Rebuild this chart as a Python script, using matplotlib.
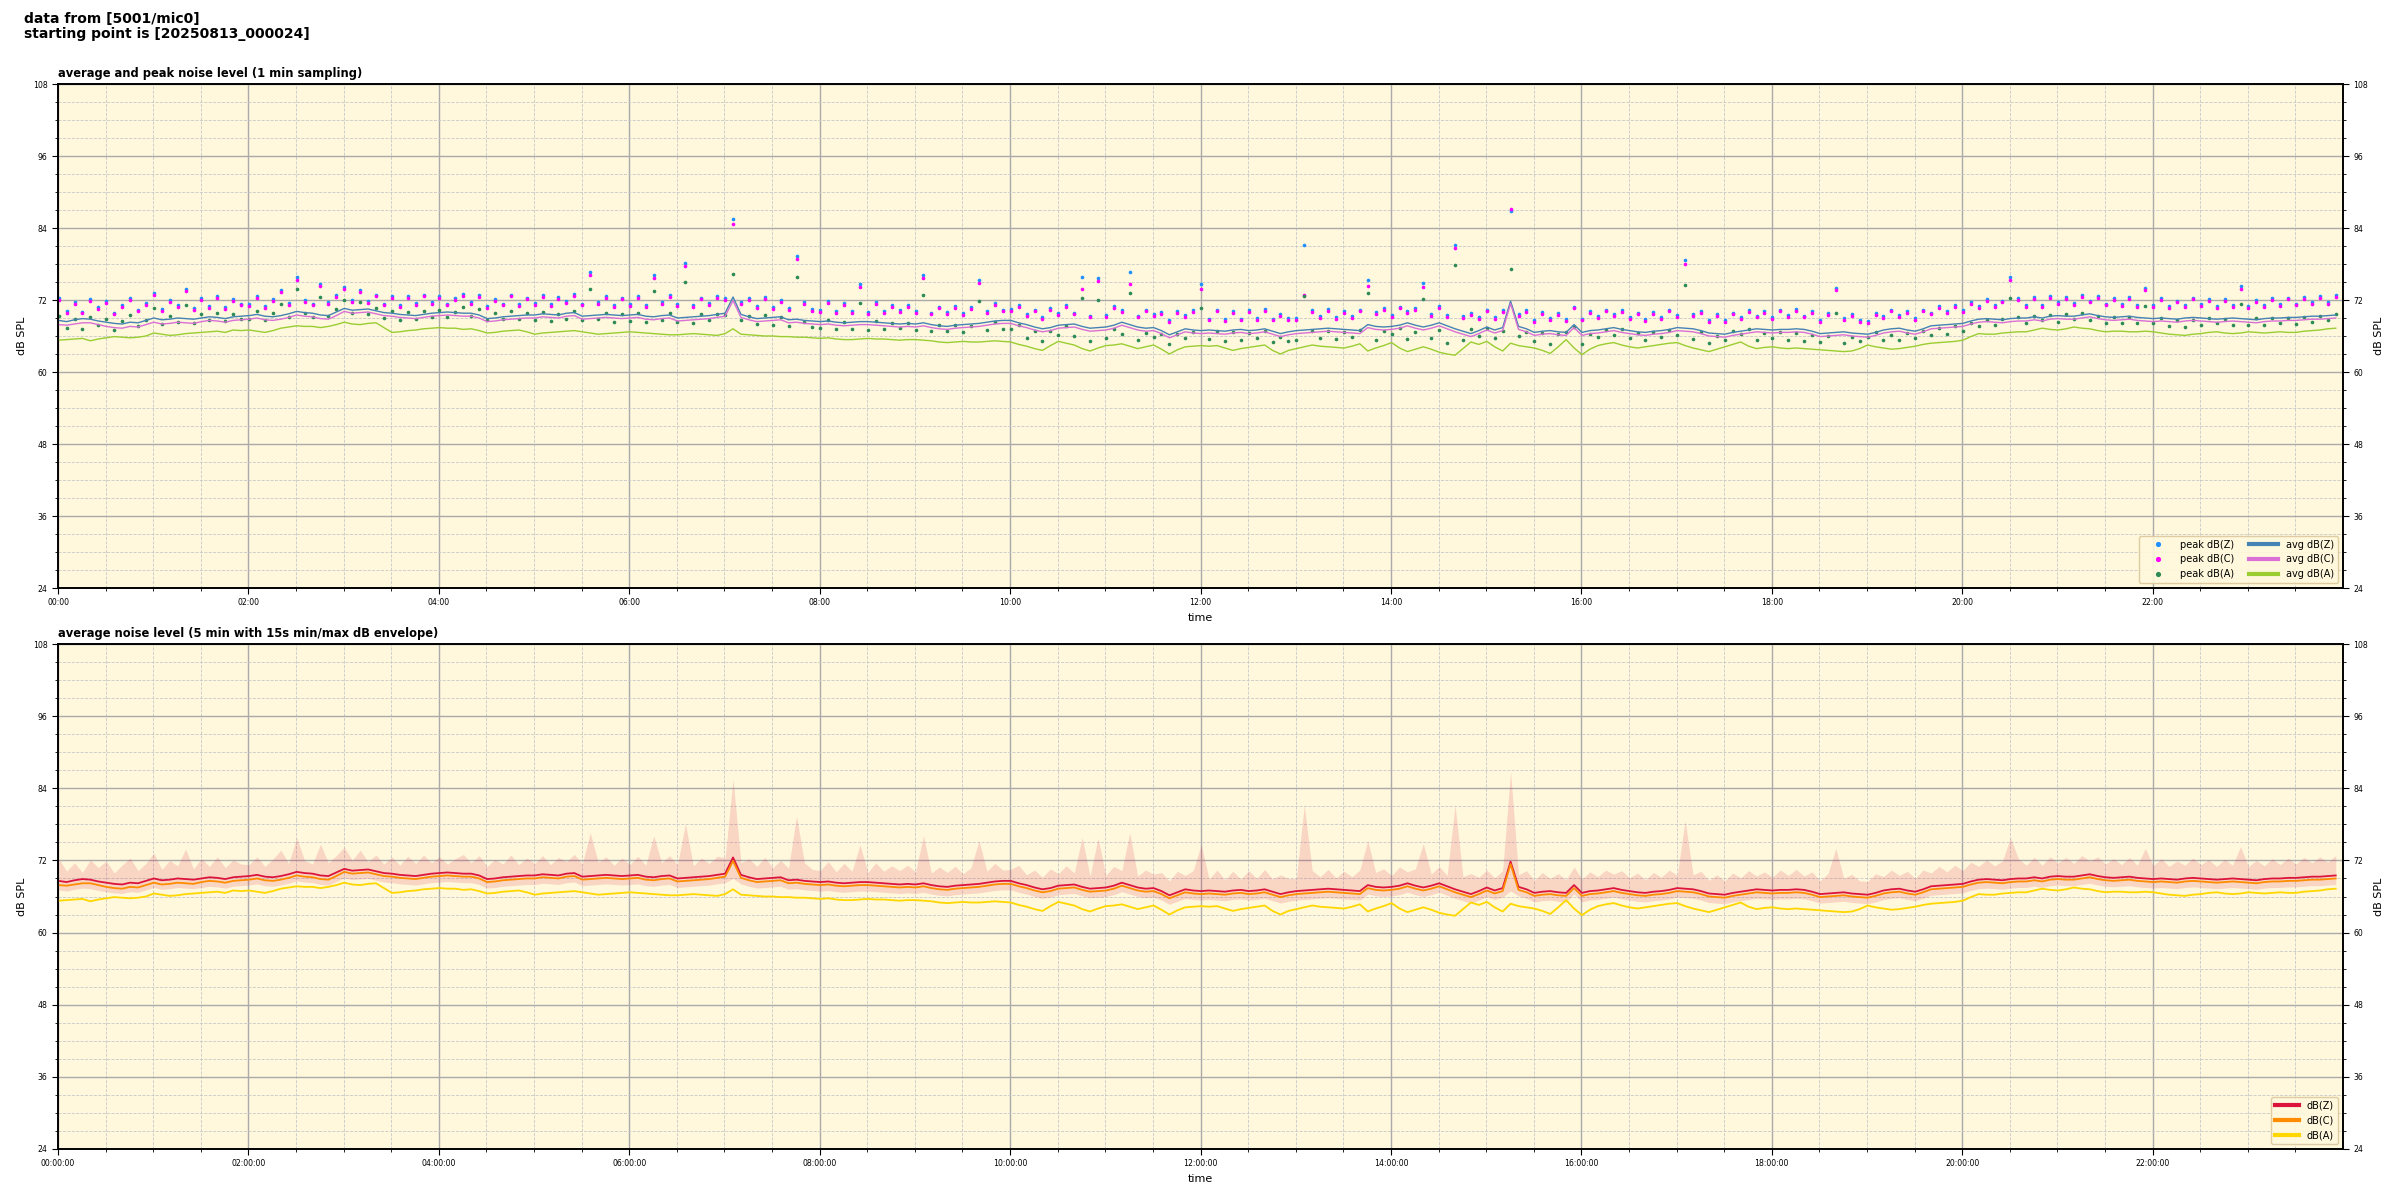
import numpy as np
import matplotlib
matplotlib.use("Agg")
import matplotlib.pyplot as plt
import matplotlib.dates as mdates
from matplotlib.ticker import MultipleLocator

# ---------------- data (5-minute resolution, one row per hour) ----------------
start = np.datetime64("2025-08-13T00:00:24")
step_min = 5

avg_Z = [
    68.6, 68.4, 68.7, 68.9, 68.8, 68.5, 68.3, 68.1, 68.0, 68.3, 68.2, 68.6,
    69.0, 68.7, 68.8, 69.0, 68.9, 68.8, 69.0, 69.2, 69.1, 68.9, 69.2, 69.3,
    69.4, 69.6, 69.3, 69.2, 69.4, 69.7, 70.1, 69.9, 69.8, 69.5, 69.4, 70.0,
    70.6, 70.3, 70.4, 70.5, 70.2, 69.9, 69.8, 69.6, 69.5, 69.4, 69.6, 69.8,
    69.9, 70.0, 69.9, 69.8, 69.8, 69.5, 68.9, 69.0, 69.2, 69.3, 69.4, 69.5,
    69.5, 69.7, 69.6, 69.5, 69.8, 69.9, 69.3, 69.4, 69.5, 69.6, 69.5, 69.4,
    69.5, 69.6, 69.3, 69.2, 69.4, 69.5, 69.0, 69.1, 69.2, 69.3, 69.4, 69.6,
    69.8, 72.5, 69.6, 69.2, 68.9, 69.0, 69.1, 69.2, 68.7, 68.8, 68.6, 68.5,
    68.4, 68.5, 68.3, 68.2, 68.3, 68.4, 68.4, 68.3, 68.2, 68.1, 68.0, 68.1,
    68.0, 68.2, 67.9, 67.7, 67.6, 67.8, 67.9, 68.0, 68.1, 68.3, 68.5, 68.6,
    68.6, 68.2, 67.9, 67.5, 67.2, 67.4, 67.8, 67.9, 68.0, 67.6, 67.3, 67.4,
    67.5, 67.8, 68.3, 67.9, 67.5, 67.3, 67.4, 66.9, 66.2, 66.7, 67.2, 67.0,
    66.9, 67.0, 66.9, 66.8, 67.0, 67.1, 66.9, 67.0, 67.2, 66.8, 66.4, 66.7,
    66.9, 67.0, 67.1, 67.2, 67.3, 67.2, 67.1, 67.0, 66.9, 67.9, 67.6, 67.5,
    67.6, 67.8, 68.2, 67.8, 67.5, 67.8, 68.2, 67.7, 67.2, 66.8, 66.4, 66.9,
    67.5, 67.0, 67.4, 71.8, 67.6, 67.2, 66.6, 66.8, 66.9, 66.7, 66.6, 67.9,
    66.6, 66.9, 67.0, 67.2, 67.4, 67.1, 66.9, 66.7, 66.6, 66.8, 66.9, 67.1,
    67.4, 67.3, 67.2, 66.9, 66.5, 66.4, 66.3, 66.6, 66.8, 67.0, 67.2, 67.1,
    67.0, 67.1, 67.1, 67.2, 67.1, 66.8, 66.4, 66.5, 66.6, 66.7, 66.5, 66.4,
    66.3, 66.6, 67.0, 67.2, 67.3, 67.0, 66.8, 67.2, 67.7, 67.8, 67.9, 68.0,
    68.1, 68.5, 68.8, 68.9, 68.8, 68.7, 68.9, 69.0, 69.0, 69.2, 69.0, 69.3,
    69.4, 69.3, 69.3, 69.5, 69.7, 69.4, 69.2, 69.1, 69.2, 69.3, 69.1, 69.0,
    68.9, 69.0, 68.9, 68.8, 69.0, 69.1, 69.0, 68.9, 68.8, 68.9, 69.0, 68.9,
    68.8, 68.7, 68.9, 69.0, 69.0, 69.1, 69.1, 69.2, 69.3, 69.3, 69.4, 69.5,
]

avg_C = [
    67.9, 67.8, 68.0, 68.2, 68.2, 67.9, 67.6, 67.4, 67.3, 67.6, 67.5, 67.9,
    68.3, 68.0, 68.1, 68.3, 68.2, 68.1, 68.4, 68.6, 68.5, 68.3, 68.6, 68.7,
    68.8, 69.0, 68.7, 68.6, 68.8, 69.1, 69.5, 69.3, 69.2, 68.9, 68.8, 69.4,
    70.1, 69.8, 69.9, 70.0, 69.7, 69.4, 69.3, 69.1, 69.0, 68.9, 69.1, 69.3,
    69.4, 69.5, 69.4, 69.3, 69.3, 69.0, 68.4, 68.5, 68.7, 68.8, 68.9, 69.0,
    69.0, 69.2, 69.1, 69.0, 69.3, 69.4, 68.8, 68.9, 69.0, 69.1, 69.0, 68.9,
    69.0, 69.1, 68.8, 68.7, 68.9, 69.0, 68.5, 68.6, 68.7, 68.8, 68.9, 69.1,
    69.3, 71.9, 69.1, 68.7, 68.4, 68.5, 68.6, 68.7, 68.2, 68.3, 68.1, 68.0,
    67.9, 68.0, 67.8, 67.7, 67.8, 67.9, 67.9, 67.8, 67.7, 67.6, 67.5, 67.6,
    67.5, 67.7, 67.4, 67.2, 67.1, 67.3, 67.4, 67.5, 67.6, 67.8, 68.0, 68.1,
    68.1, 67.7, 67.4, 67.0, 66.7, 66.9, 67.3, 67.4, 67.5, 67.1, 66.8, 66.9,
    67.0, 67.3, 67.8, 67.4, 67.0, 66.8, 66.9, 66.4, 65.7, 66.2, 66.7, 66.5,
    66.4, 66.5, 66.4, 66.3, 66.5, 66.6, 66.4, 66.5, 66.7, 66.3, 65.9, 66.2,
    66.4, 66.5, 66.6, 66.7, 66.8, 66.7, 66.6, 66.5, 66.4, 67.4, 67.1, 67.0,
    67.1, 67.3, 67.7, 67.3, 67.0, 67.3, 67.7, 67.2, 66.7, 66.3, 65.9, 66.4,
    67.0, 66.5, 66.9, 71.4, 67.1, 66.7, 66.1, 66.3, 66.4, 66.2, 66.1, 67.4,
    66.1, 66.4, 66.5, 66.7, 66.9, 66.6, 66.4, 66.2, 66.1, 66.3, 66.4, 66.6,
    66.9, 66.8, 66.7, 66.4, 66.0, 65.9, 65.8, 66.1, 66.3, 66.5, 66.7, 66.6,
    66.5, 66.6, 66.6, 66.7, 66.6, 66.3, 65.9, 66.0, 66.1, 66.2, 66.0, 65.9,
    65.8, 66.1, 66.5, 66.7, 66.8, 66.5, 66.3, 66.7, 67.2, 67.3, 67.4, 67.5,
    67.6, 68.0, 68.3, 68.4, 68.3, 68.2, 68.4, 68.5, 68.5, 68.7, 68.5, 68.8,
    68.9, 68.8, 68.8, 69.0, 69.2, 68.9, 68.7, 68.6, 68.7, 68.8, 68.6, 68.5,
    68.4, 68.5, 68.4, 68.3, 68.5, 68.6, 68.5, 68.4, 68.3, 68.4, 68.5, 68.4,
    68.3, 68.2, 68.4, 68.5, 68.5, 68.6, 68.6, 68.7, 68.8, 68.8, 68.9, 69.0,
]

avg_A = [
    65.3, 65.4, 65.5, 65.6, 65.2, 65.5, 65.7, 65.9, 65.8, 65.7, 65.8, 66.0,
    66.5, 66.3, 66.1, 66.2, 66.4, 66.5, 66.6, 66.7, 66.8, 66.6, 67.0, 66.9,
    67.0, 66.8, 66.6, 66.9, 67.3, 67.5, 67.7, 67.6, 67.6, 67.4, 67.6, 67.9,
    68.3, 68.0, 67.9, 68.1, 68.2, 67.4, 66.6, 66.7, 66.9, 67.0, 67.2, 67.3,
    67.4, 67.3, 67.3, 67.1, 67.2, 66.9, 66.5, 66.6, 66.8, 66.9, 67.0, 66.7,
    66.3, 66.5, 66.6, 66.7, 66.8, 66.9, 66.7, 66.5, 66.3, 66.4, 66.5, 66.6,
    66.7, 66.6, 66.5, 66.4, 66.3, 66.2, 66.2, 66.3, 66.4, 66.3, 66.2, 66.1,
    66.4, 67.2, 66.3, 66.2, 66.1, 66.0, 66.0, 65.9, 65.9, 65.8, 65.8, 65.7,
    65.6, 65.7, 65.5, 65.4, 65.4, 65.5, 65.6, 65.5, 65.5, 65.4, 65.3, 65.4,
    65.4, 65.3, 65.2, 65.0, 64.9, 65.0, 65.1, 65.0, 65.0, 65.1, 65.2, 65.1,
    65.0, 64.6, 64.3, 63.9, 63.6, 64.4, 65.1, 64.8, 64.5, 63.9, 63.5, 64.0,
    64.4, 64.5, 64.7, 64.3, 63.9, 64.2, 64.5, 63.8, 63.0, 63.7, 64.2, 64.3,
    64.4, 64.3, 64.4, 64.0, 63.6, 63.9, 64.1, 64.3, 64.5, 63.6, 63.0, 63.6,
    63.9, 64.2, 64.5, 64.3, 64.2, 64.1, 64.0, 64.3, 64.7, 63.5, 64.0, 64.4,
    64.9, 64.0, 63.4, 63.8, 64.2, 63.8, 63.3, 63.0, 62.8, 63.9, 65.0, 64.6,
    65.1, 64.2, 63.5, 64.8, 64.4, 64.2, 64.0, 63.6, 63.1, 64.2, 65.4, 64.0,
    62.9, 63.8, 64.4, 64.7, 64.9, 64.5, 64.2, 64.0, 64.2, 64.4, 64.6, 64.8,
    64.9, 64.4, 64.0, 63.7, 63.4, 63.8, 64.2, 64.6, 65.0, 64.3, 63.9, 64.1,
    64.2, 64.0, 63.9, 64.0, 63.9, 63.8, 63.7, 63.6, 63.5, 63.4, 63.5, 63.9,
    64.5, 64.2, 64.0, 63.8, 63.9, 64.1, 64.3, 64.6, 64.8, 64.9, 65.0, 65.1,
    65.3, 65.9, 66.4, 66.3, 66.3, 66.5, 66.6, 66.7, 66.7, 67.0, 67.3, 67.1,
    67.0, 67.2, 67.5, 67.3, 67.2, 66.9, 66.7, 66.8, 66.8, 66.7, 66.7, 66.8,
    66.7, 66.5, 66.3, 66.2, 66.1, 66.3, 66.4, 66.6, 66.7, 66.5, 66.4, 66.5,
    66.7, 66.6, 66.5, 66.6, 66.7, 66.6, 66.6, 66.8, 66.9, 67.0, 67.2, 67.3,
]

peak_Z = [
    72.3, 70.2, 71.6, 70.0, 72.1, 70.8, 71.9, 69.9, 71.2, 72.4, 70.3, 71.5,
    73.2, 70.5, 72.0, 71.1, 73.9, 70.6, 72.3, 71.0, 72.6, 70.8, 72.1, 71.4,
    71.3, 72.6, 71.0, 72.2, 73.7, 71.5, 75.8, 72.0, 71.4, 74.7, 71.6, 72.8,
    74.2, 72.0, 73.7, 71.8, 72.9, 71.4, 72.6, 71.2, 72.7, 71.5, 72.9, 71.6,
    72.6, 71.4, 72.3, 73.0, 71.6, 72.8, 71.0, 72.2, 71.4, 72.9, 71.3, 72.4,
    71.5, 72.8, 71.3, 72.5, 71.8, 73.0, 71.4, 76.6, 71.7, 72.6, 71.2, 72.4,
    71.3, 72.7, 71.2, 76.1, 71.6, 72.8, 71.3, 78.1, 71.1, 72.4, 71.5, 72.7,
    72.4, 85.5, 71.6, 72.3, 71.0, 72.5, 70.8, 72.0, 70.7, 79.4, 71.6, 70.5,
    70.3, 71.8, 70.1, 71.5, 70.2, 74.6, 70.0, 71.6, 70.2, 71.1, 70.3, 71.2,
    70.1, 76.1, 69.9, 70.9, 70.0, 71.0, 69.8, 70.8, 75.3, 70.2, 71.5, 70.4,
    70.5, 71.2, 69.6, 70.4, 69.2, 70.6, 69.8, 71.1, 69.9, 75.8, 69.4, 75.7,
    69.5, 71.0, 70.3, 76.6, 69.4, 70.4, 69.7, 70.0, 68.6, 70.2, 69.5, 70.3,
    74.6, 68.9, 70.4, 68.8, 70.2, 68.9, 70.3, 69.0, 70.5, 68.9, 69.6, 69.0,
    69.0, 81.2, 70.3, 69.3, 70.5, 69.1, 70.2, 69.3, 70.4, 75.3, 70.0, 70.6,
    69.5, 70.9, 70.1, 70.6, 74.8, 69.7, 71.0, 69.5, 81.2, 69.3, 69.8, 69.2,
    70.4, 69.1, 70.3, 86.8, 69.6, 70.3, 68.7, 70.0, 69.0, 69.8, 68.8, 70.9,
    68.9, 70.1, 69.3, 70.4, 69.7, 70.3, 69.1, 69.9, 68.8, 70.0, 69.2, 70.4,
    69.5, 78.6, 69.6, 70.2, 68.7, 69.6, 68.6, 69.9, 69.1, 70.3, 69.4, 70.1,
    69.2, 70.4, 69.5, 70.5, 69.4, 70.1, 68.6, 69.8, 74.0, 69.0, 69.7, 68.6,
    68.5, 69.8, 69.3, 70.4, 69.5, 70.2, 69.0, 70.4, 69.9, 71.0, 70.1, 71.2,
    70.3, 71.7, 71.0, 72.1, 71.1, 71.9, 75.8, 72.3, 71.2, 72.5, 71.2, 72.6,
    71.6, 72.5, 71.5, 72.8, 71.9, 72.6, 71.4, 72.3, 71.3, 72.5, 71.2, 74.0,
    71.1, 72.3, 71.0, 71.9, 71.2, 72.4, 71.3, 72.1, 71.0, 72.2, 71.2, 74.3,
    71.0, 72.0, 71.1, 72.3, 71.3, 72.4, 71.4, 72.5, 71.6, 72.6, 71.7, 72.8,
]

peak_C = [
    72.0, 69.9, 71.3, 69.8, 71.8, 70.5, 71.5, 69.6, 70.9, 72.0, 70.1, 71.2,
    72.9, 70.2, 71.7, 70.8, 73.5, 70.3, 72.0, 70.7, 72.3, 70.5, 71.8, 71.1,
    71.0, 72.3, 70.7, 71.9, 73.3, 71.2, 75.4, 71.7, 71.1, 74.3, 71.3, 72.5,
    73.8, 71.7, 73.3, 71.5, 72.6, 71.1, 72.3, 70.9, 72.4, 71.2, 72.6, 71.3,
    72.3, 71.1, 72.0, 72.7, 71.3, 72.5, 70.7, 71.9, 71.1, 72.6, 71.0, 72.1,
    71.2, 72.5, 71.0, 72.2, 71.5, 72.7, 71.1, 76.1, 71.4, 72.3, 70.9, 72.1,
    71.0, 72.4, 70.9, 75.6, 71.3, 72.5, 71.0, 77.6, 70.8, 72.1, 71.2, 72.4,
    72.0, 84.7, 71.3, 72.0, 70.7, 72.2, 70.5, 71.7, 70.4, 78.9, 71.3, 70.2,
    70.0, 71.5, 69.8, 71.2, 69.9, 74.1, 69.7, 71.3, 69.9, 70.8, 70.0, 70.9,
    69.8, 75.6, 69.6, 70.6, 69.7, 70.7, 69.5, 70.5, 74.8, 69.9, 71.2, 70.1,
    70.2, 70.9, 69.3, 70.1, 68.9, 70.3, 69.5, 70.8, 69.6, 73.9, 69.1, 75.2,
    69.2, 70.7, 70.0, 74.6, 69.1, 70.1, 69.4, 69.7, 68.3, 69.9, 69.2, 70.0,
    73.9, 68.6, 70.1, 68.5, 69.9, 68.6, 70.0, 68.7, 70.2, 68.6, 69.3, 68.7,
    68.7, 72.9, 70.0, 69.0, 70.2, 68.8, 69.9, 69.0, 70.1, 74.4, 69.7, 70.3,
    69.2, 70.6, 69.8, 70.3, 74.2, 69.4, 70.7, 69.2, 80.7, 69.0, 69.5, 68.9,
    70.1, 68.8, 70.0, 87.1, 69.3, 70.0, 68.4, 69.7, 68.7, 69.5, 68.5, 70.6,
    68.6, 69.8, 69.0, 70.1, 69.4, 70.0, 68.8, 69.6, 68.5, 69.7, 68.9, 70.1,
    69.2, 78.0, 69.3, 69.9, 68.4, 69.3, 68.3, 69.6, 68.8, 70.0, 69.1, 69.8,
    68.9, 70.1, 69.2, 70.2, 69.1, 69.8, 68.3, 69.5, 73.6, 68.7, 69.4, 68.3,
    68.2, 69.5, 69.0, 70.1, 69.2, 69.9, 68.7, 70.1, 69.6, 70.7, 69.8, 70.9,
    70.0, 71.4, 70.7, 71.8, 70.8, 71.6, 75.3, 72.0, 70.9, 72.2, 70.9, 72.3,
    71.3, 72.2, 71.2, 72.5, 71.6, 72.3, 71.1, 72.0, 71.0, 72.2, 70.9, 73.6,
    70.8, 72.0, 70.7, 71.6, 70.9, 72.1, 71.0, 71.8, 70.7, 71.9, 70.9, 73.9,
    70.7, 71.7, 70.8, 72.0, 71.0, 72.1, 71.1, 72.2, 71.3, 72.3, 71.4, 72.5,
]

peak_A = [
    69.4, 67.4, 68.9, 67.2, 69.2, 67.9, 68.8, 67.0, 68.5, 69.5, 67.6, 68.7,
    70.6, 68.0, 69.3, 68.4, 71.2, 68.2, 69.7, 68.6, 69.9, 68.5, 69.6, 68.9,
    68.9, 70.2, 68.7, 69.9, 71.4, 69.2, 73.9, 69.8, 69.2, 72.5, 69.4, 70.5,
    72.0, 69.9, 71.6, 69.7, 70.6, 69.0, 70.1, 68.6, 70.0, 68.9, 70.2, 69.1,
    70.4, 69.1, 70.0, 70.8, 69.3, 70.5, 68.6, 69.8, 68.9, 70.2, 68.8, 69.9,
    68.6, 70.0, 68.5, 69.7, 68.9, 70.1, 68.6, 73.8, 68.8, 69.8, 68.3, 69.6,
    68.5, 69.9, 68.4, 73.5, 68.7, 69.8, 68.4, 75.0, 68.2, 69.6, 68.6, 69.7,
    69.5, 76.3, 68.6, 69.3, 68.0, 69.5, 67.8, 69.1, 67.7, 75.9, 68.4, 67.5,
    67.3, 68.7, 67.1, 68.4, 67.2, 71.5, 67.0, 68.5, 67.2, 68.1, 67.3, 68.2,
    67.0, 72.8, 66.8, 67.8, 66.9, 67.9, 66.7, 67.7, 71.9, 67.0, 68.3, 67.2,
    67.2, 67.9, 65.7, 66.8, 65.1, 66.9, 66.2, 67.6, 66.0, 72.3, 65.2, 72.0,
    65.6, 67.1, 66.4, 73.2, 65.4, 66.5, 65.9, 66.3, 64.6, 66.3, 65.6, 66.6,
    70.7, 65.5, 66.9, 65.2, 66.6, 65.4, 66.5, 65.6, 66.9, 65.0, 65.9, 65.1,
    65.3, 72.6, 66.8, 65.6, 66.9, 65.5, 66.6, 65.8, 67.0, 73.2, 65.3, 66.9,
    66.4, 67.3, 65.5, 66.7, 72.1, 65.6, 67.0, 64.8, 77.9, 65.4, 67.2, 66.0,
    67.3, 65.6, 66.8, 77.1, 66.0, 66.7, 65.2, 66.5, 64.7, 66.4, 66.6, 67.5,
    64.6, 66.3, 65.8, 67.0, 66.2, 67.1, 65.6, 66.5, 65.4, 66.7, 65.9, 67.0,
    66.2, 74.5, 65.5, 66.6, 64.8, 66.0, 65.4, 66.8, 66.3, 67.2, 65.3, 66.5,
    65.6, 66.6, 65.3, 66.5, 65.2, 66.1, 65.0, 66.0, 69.8, 64.8, 65.8, 65.1,
    65.8, 66.6, 65.4, 66.2, 65.3, 66.5, 65.6, 66.9, 66.1, 67.3, 66.4, 67.6,
    66.8, 68.2, 67.7, 68.7, 67.8, 68.9, 72.4, 69.1, 68.1, 69.4, 68.6, 69.5,
    68.4, 69.6, 68.8, 69.8, 68.6, 69.3, 68.1, 69.2, 68.2, 69.1, 68.1, 71.0,
    68.1, 69.0, 67.7, 68.6, 67.5, 68.7, 67.8, 69.0, 68.1, 68.9, 67.8, 71.3,
    67.9, 69.0, 67.9, 69.0, 68.1, 69.0, 68.0, 69.2, 68.3, 69.4, 68.6, 69.7,
]

# 15 s min/max envelope of dB(Z): the maximum follows the peak level
env_hi = peak_Z
env_lo = [
    67.1, 66.9, 67.2, 67.4, 67.3, 67.0, 66.8, 66.6, 66.5, 66.8, 66.7, 67.1,
    67.5, 67.2, 67.3, 67.5, 67.4, 67.3, 67.5, 67.7, 67.6, 67.4, 67.7, 67.8,
    67.9, 68.1, 67.8, 67.7, 67.9, 68.2, 68.6, 68.4, 68.3, 68.0, 67.9, 68.5,
    69.1, 68.8, 68.9, 69.0, 68.7, 68.4, 68.3, 68.1, 68.0, 67.9, 68.1, 68.3,
    68.4, 68.5, 68.4, 68.3, 68.3, 68.0, 67.4, 67.5, 67.7, 67.8, 67.9, 68.0,
    68.0, 68.2, 68.1, 68.0, 68.3, 68.4, 67.8, 67.9, 68.0, 68.1, 68.0, 67.9,
    68.0, 68.1, 67.8, 67.7, 67.9, 68.0, 67.5, 67.6, 67.7, 67.8, 67.9, 68.1,
    68.3, 69.0, 68.1, 67.7, 67.4, 67.5, 67.6, 67.7, 67.2, 67.3, 67.1, 67.0,
    66.9, 67.0, 66.8, 66.7, 66.8, 66.9, 66.9, 66.8, 66.7, 66.6, 66.5, 66.6,
    66.5, 66.7, 66.4, 66.2, 66.1, 66.3, 66.4, 66.5, 66.6, 66.8, 67.0, 67.1,
    67.1, 66.7, 66.4, 66.0, 65.7, 65.9, 66.3, 66.4, 66.5, 66.1, 65.8, 65.9,
    66.0, 66.3, 66.8, 66.4, 66.0, 65.8, 65.9, 65.4, 64.7, 65.2, 65.7, 65.5,
    65.4, 65.5, 65.4, 65.3, 65.5, 65.6, 65.4, 65.5, 65.7, 65.3, 64.9, 65.2,
    65.4, 65.5, 65.6, 65.7, 65.8, 65.7, 65.6, 65.5, 65.4, 66.4, 66.1, 66.0,
    66.1, 66.3, 66.7, 66.3, 66.0, 66.3, 66.7, 66.2, 65.7, 65.3, 64.9, 65.4,
    66.0, 65.5, 65.9, 66.9, 66.1, 65.7, 65.1, 65.3, 65.4, 65.2, 65.1, 66.4,
    65.1, 65.4, 65.5, 65.7, 65.9, 65.6, 65.4, 65.2, 65.1, 65.3, 65.4, 65.6,
    65.9, 65.8, 65.7, 65.4, 65.0, 64.9, 64.8, 65.1, 65.3, 65.5, 65.7, 65.6,
    65.5, 65.6, 65.6, 65.7, 65.6, 65.3, 64.9, 65.0, 65.1, 65.2, 65.0, 64.9,
    64.8, 65.1, 65.5, 65.7, 65.8, 65.5, 65.3, 65.7, 66.2, 66.3, 66.4, 66.5,
    66.6, 67.0, 67.3, 67.4, 67.3, 67.2, 67.4, 67.5, 67.5, 67.7, 67.5, 67.8,
    67.9, 67.8, 67.8, 68.0, 68.2, 67.9, 67.7, 67.6, 67.7, 67.8, 67.6, 67.5,
    67.4, 67.5, 67.4, 67.3, 67.5, 67.6, 67.5, 67.4, 67.3, 67.4, 67.5, 67.4,
    67.3, 67.2, 67.4, 67.5, 67.5, 67.6, 67.6, 67.7, 67.8, 67.8, 67.9, 68.0,
]

y_min, y_max = 24, 108

# ---------------- figure ----------------
n = len(avg_Z)
t = (start + np.arange(n) * np.timedelta64(step_min, "m")).astype("datetime64[s]").astype(object)
x0 = np.datetime64("2025-08-13T00:00:00").astype(object)
x1 = np.datetime64("2025-08-13T23:59:59").astype(object)

BG = "#fff8dc"
fig = plt.figure(figsize=(24, 12), dpi=100)
W, H = 2400.0, 1200.0
ax1 = fig.add_axes([58 / W, 1 - 588 / H, (2343 - 58) / W, (588 - 84) / H])
ax2 = fig.add_axes([58 / W, 1 - 1149 / H, (2343 - 58) / W, (1149 - 644) / H])

fig.text(24 / W, 1 - 12 / H, "data from [5001/mic0]\nstarting point is [20250813_000024]",
         ha="left", va="top", fontsize=10, fontweight="bold", linespacing=1.1)


def style_axes(ax, fmt):
    ax.set_facecolor(BG)
    ax.set_xlim(x0, x1)
    ax.set_ylim(y_min, y_max)
    ax.yaxis.set_major_locator(MultipleLocator(12))
    ax.yaxis.set_minor_locator(MultipleLocator(3))
    ax.xaxis.set_major_locator(mdates.HourLocator(byhour=range(0, 24, 2)))
    ax.xaxis.set_minor_locator(mdates.MinuteLocator(byminute=[0, 30]))
    ax.xaxis.set_major_formatter(mdates.DateFormatter(fmt))
    ax.grid(which="major", color="#aaaaaa", lw=1.0, ls="-")
    ax.grid(which="minor", color="#c8c8c8", lw=0.6, ls="--")
    ax.set_axisbelow(True)
    ax.tick_params(which="major", labelsize=5.6, length=4, width=0.8)
    ax.tick_params(which="minor", length=2.5, width=0.6)
    for s in ax.spines.values():
        s.set_linewidth(1.2)
    ax.set_xlabel("time", fontsize=8)
    ax.set_ylabel("dB SPL", fontsize=8)
    axr = ax.twinx()
    axr.set_ylim(y_min, y_max)
    axr.yaxis.set_major_locator(MultipleLocator(12))
    axr.yaxis.set_minor_locator(MultipleLocator(3))
    axr.tick_params(which="major", labelsize=5.6, length=4, width=0.8)
    axr.tick_params(which="minor", length=2.5, width=0.6)
    axr.set_ylabel("dB SPL", fontsize=8)
    for s in axr.spines.values():
        s.set_linewidth(1.2)
    return axr


# --- top: average and peak ---
ax1.plot(t, peak_Z, ".", color="#1e90ff", ms=3.2, label="peak dB(Z)", zorder=2)
ax1.plot(t, peak_C, ".", color="#ff00ff", ms=3.2, label="peak dB(C)", zorder=2)
ax1.plot(t, peak_A, ".", color="#2e8b57", ms=3.2, label="peak dB(A)", zorder=2)
ax1.plot(t, avg_Z, "-", color="#4682b4", lw=1.0, label="avg dB(Z)", zorder=3)
ax1.plot(t, avg_C, "-", color="#da70d6", lw=1.0, label="avg dB(C)", zorder=3)
ax1.plot(t, avg_A, "-", color="#9acd32", lw=1.0, label="avg dB(A)", zorder=3)
ax1.set_title("average and peak noise level (1 min sampling)", loc="left",
              fontsize=8.3, fontweight="bold", pad=5)
r1 = style_axes(ax1, "%H:%M")
leg1 = ax1.legend(loc="lower right", ncol=2, fontsize=7, markerscale=1.7,
                  facecolor=BG, edgecolor="#dcc89c", framealpha=0.9,
                  handlelength=3, columnspacing=1.5)
for ln in leg1.get_lines():
    if ln.get_linestyle() == "-":
        ln.set_linewidth(3)

# --- bottom: average with envelope ---
ax2.fill_between(t, env_lo, env_hi, color="#dc143c", alpha=0.15, lw=0, zorder=1)
ax2.plot(t, avg_Z, "-", color="#dc143c", lw=1.3, label="dB(Z)", zorder=3)
ax2.plot(t, avg_C, "-", color="#ff8c00", lw=1.3, label="dB(C)", zorder=3)
ax2.plot(t, avg_A, "-", color="#ffd700", lw=1.3, label="dB(A)", zorder=3)
ax2.set_title("average noise level (5 min with 15s min/max dB envelope)", loc="left",
              fontsize=8.3, fontweight="bold", pad=5)
r2 = style_axes(ax2, "%H:%M:%S")
leg2 = ax2.legend(loc="lower right", fontsize=7, facecolor=BG, edgecolor="#dcc89c",
                  framealpha=0.9, handlelength=2.5)
for ln in leg2.get_lines():
    ln.set_linewidth(3)

fig.savefig("out.png", dpi=100)
